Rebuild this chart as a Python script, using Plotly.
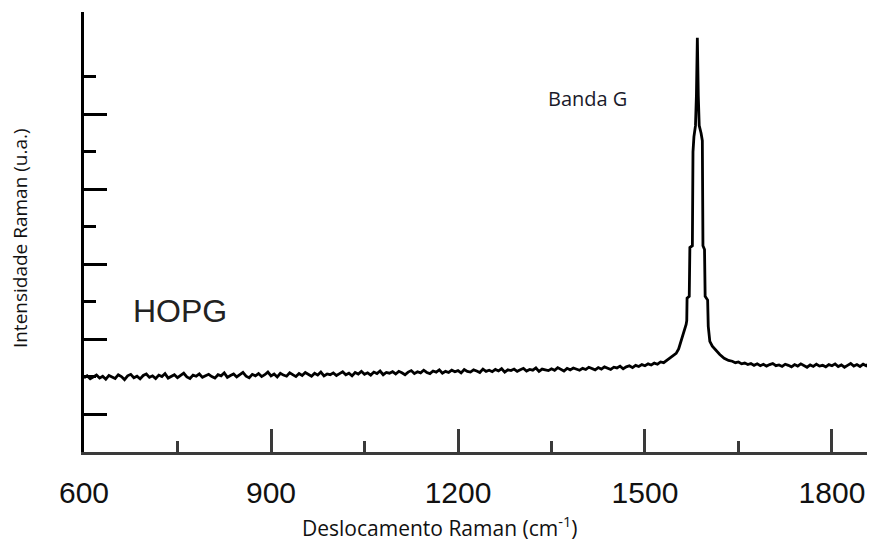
import plotly.graph_objects as go

# ---- data (Raman shift in cm^-1, intensity in arbitrary units) ----
base_left_x = list(range(600, 1540, 5))
base_left_y = [
    1.98, 2.03, 1.95, 2.01, 2.05, 1.97, 2.02, 1.94, 2.04, 2.00,
    1.96, 2.06, 2.01, 1.93, 2.03, 2.07, 1.98, 2.02, 1.95, 2.04,
    2.08, 1.99, 2.03, 1.96, 2.05, 2.01, 2.09, 1.97, 2.02, 2.06,
    1.98, 2.04, 2.10, 2.00, 1.96, 2.05, 2.02, 2.08, 1.99, 2.03,
    2.07, 2.01, 1.97, 2.06, 2.03, 2.11, 1.99, 2.04, 2.08, 2.00,
    2.05, 2.12, 2.02, 1.98, 2.07, 2.03, 2.09, 2.01, 2.06, 2.13,
    2.03, 2.08, 2.00, 2.10, 2.05, 2.02, 2.11, 2.06, 2.01, 2.09,
    2.04, 2.12, 2.07, 2.02, 2.10, 2.05, 2.13, 2.03, 2.08, 2.06,
    2.11, 2.04, 2.09, 2.14, 2.06, 2.10, 2.03, 2.12, 2.08, 2.15,
    2.07, 2.11, 2.05, 2.13, 2.09, 2.16, 2.06, 2.12, 2.10, 2.14,
    2.08, 2.15, 2.11, 2.06, 2.13, 2.17, 2.09, 2.14, 2.11, 2.18,
    2.12, 2.09, 2.16, 2.13, 2.19, 2.10, 2.15, 2.12, 2.18, 2.14,
    2.17, 2.11, 2.20, 2.15, 2.13, 2.19, 2.16, 2.12, 2.21, 2.15,
    2.18, 2.14, 2.20, 2.16, 2.22, 2.13, 2.19, 2.17, 2.21, 2.15,
    2.19, 2.23, 2.16, 2.20, 2.18, 2.24, 2.15, 2.21, 2.19, 2.17,
    2.22, 2.18, 2.25, 2.20, 2.16, 2.23, 2.19, 2.24, 2.21, 2.18,
    2.23, 2.20, 2.26, 2.22, 2.19, 2.25, 2.21, 2.27, 2.23, 2.20,
    2.26, 2.24, 2.29, 2.22, 2.27, 2.30, 2.25, 2.31, 2.28, 2.33,
    2.30, 2.35, 2.32, 2.37, 2.34, 2.40, 2.38, 2.44,
]

peak_x = [1540, 1545, 1550, 1554, 1557, 1560, 1563, 1566, 1567, 1567.5,
          1571, 1572, 1576, 1577, 1578.5, 1581, 1582.5, 1584, 1585.5, 1587,
          1590, 1592, 1593, 1595.5, 1596.5, 1600.5, 1601.5, 1604, 1608, 1613,
          1620, 1627, 1634]
peak_y = [2.50, 2.55, 2.63, 2.75, 2.90, 3.05, 3.25, 3.40, 3.50, 4.10,
          4.15, 5.45, 5.50, 8.00, 8.40, 8.70, 9.50, 11.04, 9.50, 8.70,
          8.50, 8.30, 5.50, 5.40, 4.15, 4.05, 3.35, 2.95, 2.82, 2.72,
          2.60, 2.50, 2.44]

base_right_x = list(range(1640, 1875, 5))
base_right_y = [
    2.42, 2.38, 2.40, 2.35, 2.37, 2.33, 2.36, 2.31, 2.35, 2.30,
    2.34, 2.29, 2.33, 2.36, 2.30, 2.32, 2.28, 2.34, 2.31, 2.27,
    2.33, 2.29, 2.35, 2.30, 2.26, 2.32, 2.28, 2.34, 2.29, 2.31,
    2.27, 2.33, 2.30, 2.35, 2.28, 2.32, 2.26, 2.31, 2.36, 2.29,
    2.33, 2.28, 2.34, 2.30, 2.37, 2.31, 2.35,
]

x_major_ticks = [600, 900, 1200, 1500, 1800]
x_tick_labels = ["600", "900", "1200", "1500", "1800"]
x_minor_ticks = [750, 1050, 1350, 1650]
y_major_ticks = [1, 3, 5, 7, 9]
y_minor_ticks = [2, 4, 6, 8, 10]

x_all = base_left_x + peak_x + base_right_x
y_all = base_left_y + peak_y + base_right_y

fig = go.Figure()
fig.add_trace(go.Scatter(
    x=x_all, y=y_all, mode="lines",
    line=dict(color="black", width=2.8),
    hoverinfo="skip", showlegend=False,
))

# page has an 8px body margin, so the figure is sized/offset to compensate
fig.update_layout(
    width=867, height=537,
    margin=dict(l=76, r=0, t=4, b=93, autoexpand=False),
    paper_bgcolor="white", plot_bgcolor="white",
    showlegend=False,
    xaxis=dict(
        range=[600, 1869], automargin=False,
        showgrid=False, zeroline=False,
        showline=True, linecolor="#3a3a3a", linewidth=3,
        ticks="inside", ticklen=23, tickwidth=3, tickcolor="#3a3a3a",
        tickmode="array", tickvals=x_major_ticks, ticktext=x_tick_labels,
        ticklabelstandoff=12,
        tickfont=dict(family="Liberation Sans, Arial", size=30, color="#111"),
        minor=dict(tickmode="array", tickvals=x_minor_ticks, ticks="inside",
                   ticklen=11, tickwidth=3, tickcolor="#3a3a3a", showgrid=False),
    ),
    yaxis=dict(
        range=[0, 11.73], automargin=False,
        showgrid=False, zeroline=False,
        showline=True, linecolor="black", linewidth=3,
        ticks="inside", ticklen=23, tickwidth=3, tickcolor="black",
        tickmode="array", tickvals=y_major_ticks,
        showticklabels=False,
        minor=dict(tickmode="array", tickvals=y_minor_ticks, ticks="inside",
                   ticklen=12, tickwidth=3, tickcolor="black", showgrid=False),
    ),
    annotations=[
        dict(text="Deslocamento Raman (cm<sup>-1</sup>)", xref="paper", yref="paper",
             x=0.45, y=-0.17, xanchor="center", yanchor="middle", showarrow=False,
             font=dict(family="Open Sans", size=21, color="#111")),
        dict(text="Intensidade Raman (u.a.)", xref="paper", yref="paper",
             x=-0.081, y=0.486, xanchor="center", yanchor="middle", showarrow=False,
             textangle=-90, font=dict(family="Open Sans", size=19, color="#111")),
        dict(text="HOPG", xref="paper", yref="paper",
             x=0.1214, y=0.3205, xanchor="center", yanchor="middle", showarrow=False,
             font=dict(family="Liberation Sans, Arial", size=32, color="#222")),
        dict(text="Banda G", xref="paper", yref="paper",
             x=0.637, y=0.8045, xanchor="center", yanchor="middle", showarrow=False,
             font=dict(family="Open Sans", size=20, color="#1a1a2a")),
    ],
)

fig.write_html("out.html")
